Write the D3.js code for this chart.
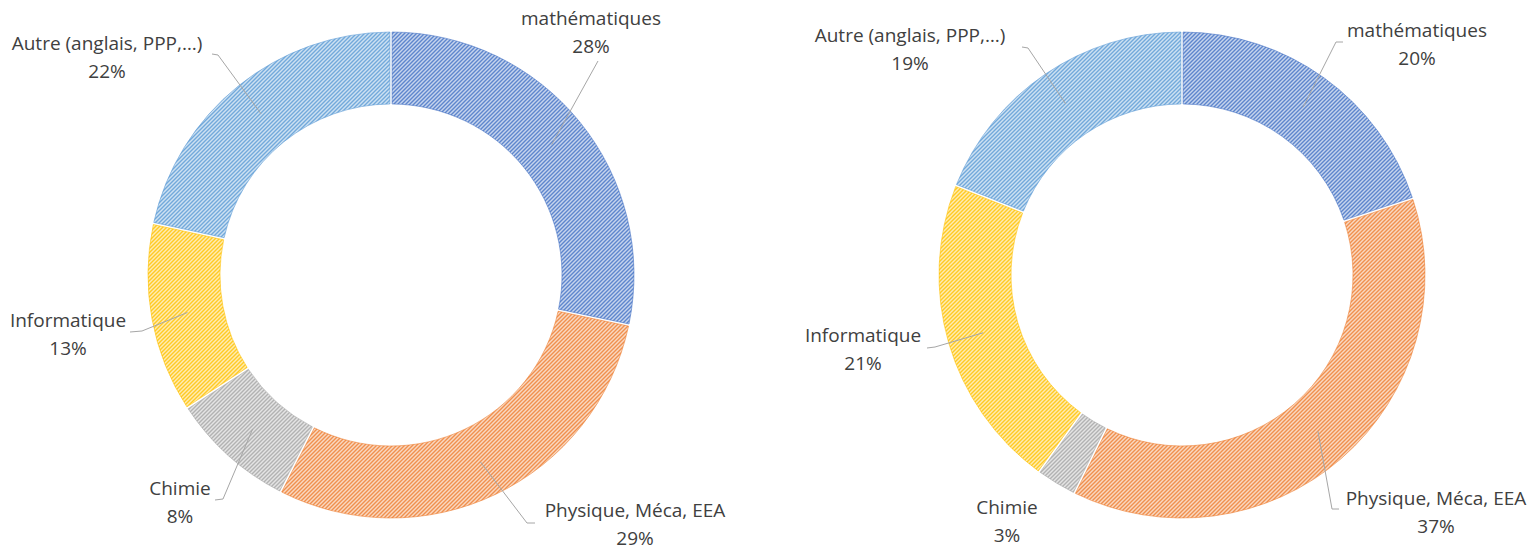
<!DOCTYPE html>
<html>
<head>
<meta charset="utf-8">
<script src="https://cdn.jsdelivr.net/npm/d3@7"></script>
<style>
  body { margin: 0; background: #fff; }
  svg { display: block; }
</style>
</head>
<body>
<div id="chart"></div>
<script>
// Répartition des enseignements - deux anneaux
const categories = ['mathématiques', 'Physique, Méca, EEA', 'Chimie', 'Informatique', 'Autre (anglais, PPP,…)'];
const valuesLeft = [28.3, 29.2, 8.3, 12.6, 21.6];
const valuesRight = [19.9, 37.4, 2.7, 21.0, 19.0];
const colors = ['#4472C4', '#ED7D31', '#A5A5A5', '#FFC000', '#5B9BD5'];

// label placement (x, y of first line, leader start points) per chart
const labelsLeft = [
    { x: 591, y: 18, lead: [[598, 61]] },
    { x: 635, y: 510, lead: [[535, 523], [527, 523]] },
    { x: 180, y: 488, lead: [[215, 500], [223, 499]] },
    { x: 68, y: 320, lead: [[130, 332], [142, 331]] },
    { x: 107, y: 43, lead: [[212, 54], [218, 55]] }
];
const labelsRight = [
    { x: 1417, y: 30, lead: [[1343, 42], [1336, 42]] },
    { x: 1436, y: 498, lead: [[1339, 509], [1332, 509]] },
    { x: 1007, y: 507, lead: null },
    { x: 863, y: 335, lead: [[927, 348], [935, 347]] },
    { x: 910, y: 35, lead: [[1022, 47], [1028, 48]] }
];

const width = 1536, height = 559;
const outerR = 243, innerR = 171;

const svg = d3.select('#chart')
    .append('svg')
    .attr('width', width)
    .attr('height', height);

// hatch patterns
const defs = svg.append('defs');
colors.forEach((c, i) => {
    const p = defs.append('pattern')
        .attr('id', 'hatch' + i)
        .attr('patternUnits', 'userSpaceOnUse')
        .attr('width', 4)
        .attr('height', 4);
    p.append('rect')
        .attr('width', 4).attr('height', 4)
        .attr('fill', c).attr('fill-opacity', 0.3);
    p.append('path')
        .attr('d', 'M-1,1 l2,-2 M0,4 l4,-4 M3,5 l2,-2')
        .attr('stroke', c)
        .attr('stroke-opacity', 0.8)
        .attr('stroke-width', 1.4);
});

const pie = d3.pie().sort(null).value(d => d);
const arc = d3.arc()
    .innerRadius(innerR)
    .outerRadius(outerR)
    .padAngle(2.2 / outerR)
    .padRadius(outerR);
const midArc = d3.arc()
    .innerRadius((innerR + outerR) / 2)
    .outerRadius((innerR + outerR) / 2);

function drawDonut(cx, cy, values, labels) {
    const g = svg.append('g').attr('transform', `translate(${cx},${cy})`);
    const arcs = pie(values);
    const total = d3.sum(values);

    g.selectAll('path.slice')
        .data(arcs)
        .enter().append('path')
        .attr('class', 'slice')
        .attr('d', arc)
        .attr('fill', (d, i) => `url(#hatch${i})`)
        .attr('stroke', (d, i) => colors[i])
        .attr('stroke-width', 0.8)
        .attr('stroke-opacity', 0.7);

    // leader lines
    arcs.forEach((d, i) => {
        const lb = labels[i];
        if (!lb.lead) return;
        const c = midArc.centroid(d);
        const pts = lb.lead.concat([[cx + c[0], cy + c[1]]]);
        svg.append('path')
            .attr('d', d3.line()(pts))
            .attr('fill', 'none')
            .attr('stroke', '#A6A6A6')
            .attr('stroke-width', 1);
    });

    // labels
    arcs.forEach((d, i) => {
        const lb = labels[i];
        const t = svg.append('text')
            .attr('text-anchor', 'middle')
            .style('font-family', '"Open Sans", sans-serif')
            .style('font-size', '19px')
            .style('fill', '#404040');
        t.append('tspan')
            .attr('x', lb.x).attr('y', lb.y).attr('dy', '0.35em')
            .text(categories[i]);
        t.append('tspan')
            .attr('x', lb.x).attr('y', lb.y + 28).attr('dy', '0.35em')
            .text(Math.round(values[i] / total * 100) + '%');
    });
}

drawDonut(391, 275, valuesLeft, labelsLeft);
drawDonut(1182, 275, valuesRight, labelsRight);
</script>
</body>
</html>
